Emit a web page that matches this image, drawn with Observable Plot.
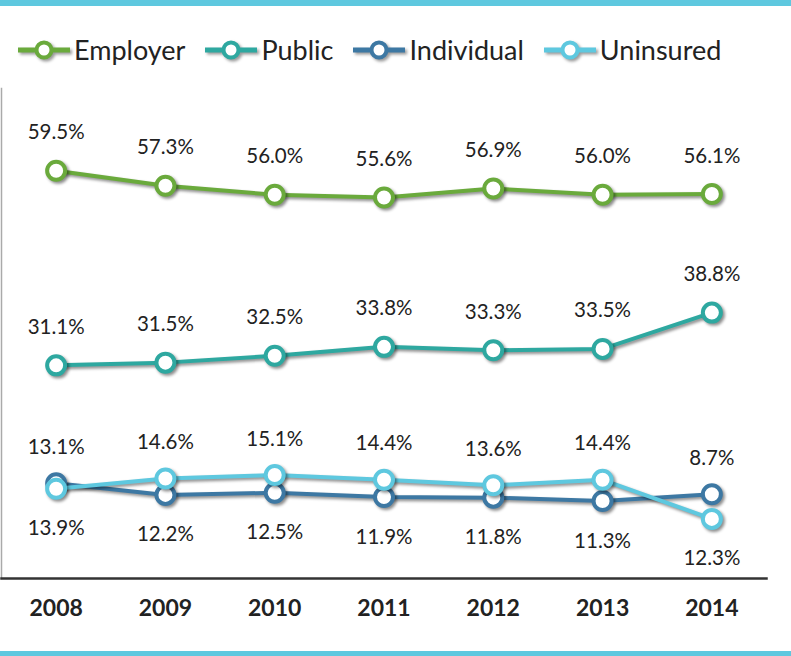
<!DOCTYPE html>
<html><head><meta charset="utf-8">
<script src="https://cdn.jsdelivr.net/npm/d3@7"></script>
<script src="https://cdn.jsdelivr.net/npm/@observablehq/plot@0.6"></script>
<style>
body{margin:0;background:#fff;}
#wrap{position:relative;width:791px;height:656px;overflow:hidden;background:#fff;font-family:Lato,sans-serif;}
.bar{position:absolute;left:0;width:791px;height:6px;background:#5ec8df;}
#legend{position:absolute;left:17px;top:33px;display:flex;align-items:center;font-size:27px;color:#222;}
.item{display:flex;align-items:center;margin-right:19px;}
.item svg{filter:drop-shadow(2px 2px 1.5px rgba(0,0,0,0.4));margin-right:3px;}
#chart{position:absolute;left:0;top:85px;}
#chart svg g[aria-label="line"], #chart svg g[aria-label="dot"]{filter:drop-shadow(2px 2px 1.5px rgba(0,0,0,0.45));}
</style>
</head><body>
<div id="wrap">
  <div class="bar" style="top:0"></div>
  <div id="legend"></div>
  <div id="chart"></div>
  <div class="bar" style="top:651px;height:5px"></div>
</div>
<script>
const years = [2008, 2009, 2010, 2011, 2012, 2013, 2014];
const seriesNames = ["Employer", "Public", "Individual", "Uninsured"];
const seriesColors = ["#6aaa3c", "#2ea8a0", "#3d78a3", "#5ec8df"];
const employer = [59.5, 57.3, 56.0, 55.6, 56.9, 56.0, 56.1];
const publicIns = [31.1, 31.5, 32.5, 33.8, 33.3, 33.5, 38.8];
const individual = [13.9, 12.2, 12.5, 11.9, 11.8, 11.3, 12.3];
const uninsured = [13.1, 14.6, 15.1, 14.4, 13.6, 14.4, 8.7];

const seriesValues = [employer, publicIns, individual, uninsured];
const fmt = v => v.toFixed(1) + "%";

// legend
const legend = document.getElementById("legend");
seriesNames.forEach((name, i) => {
  const c = seriesColors[i];
  const item = document.createElement("div");
  item.className = "item";
  item.innerHTML = `<svg width="54" height="26" viewBox="0 0 54 26"><line x1="1" x2="53" y1="13" y2="13" stroke="${c}" stroke-width="5"/><circle cx="27" cy="13" r="7.5" fill="#fff" stroke="${c}" stroke-width="4"/></svg><span>${name}</span>`;
  legend.appendChild(item);
});

const rowsFor = i => years.map((y, k) => ({year: y, value: seriesValues[i][k]}));

const marks = [
  Plot.frame({anchor: "left", stroke: "#aaa", strokeWidth: 1.5}),
  Plot.frame({anchor: "bottom", stroke: "#333", strokeWidth: 2.5}),
  Plot.axisX(years, {tickSize: 0, tickPadding: 21, label: null, tickFormat: d => String(d), fontSize: 23, fontWeight: "bold", fill: "#222"})
];
seriesNames.forEach((name, i) => {
  marks.push(Plot.line(rowsFor(i), {x: "year", y: "value", stroke: seriesColors[i], strokeWidth: 4}));
  marks.push(Plot.dot(rowsFor(i), {x: "year", y: "value", r: 9, fill: "white", stroke: seriesColors[i], strokeWidth: 4}));
});
// labels for employer and public
[0, 1].forEach(i => {
  marks.push(Plot.text(rowsFor(i), {x: "year", y: "value", text: d => fmt(d.value), dy: -38, fontSize: 20.5, fill: "#222"}));
});
// labels for the individual / uninsured pair: uninsured above, individual below
const topLabels = years.map((y, k) => ({year: y, value: Math.max(individual[k], uninsured[k]), label: fmt(uninsured[k])}));
const bottomLabels = years.map((y, k) => ({year: y, value: Math.min(individual[k], uninsured[k]), label: fmt(individual[k])}));
marks.push(Plot.text(topLabels, {x: "year", y: "value", text: "label", dy: -36, fontSize: 20.5, fill: "#222"}));
marks.push(Plot.text(bottomLabels, {x: "year", y: "value", text: "label", dy: 40, fontSize: 20.5, fill: "#222"}));

const chart = Plot.plot({
  width: 791,
  height: 566,
  marginTop: 3,
  marginBottom: 73,
  marginLeft: 1,
  marginRight: 25,
  x: {domain: [2007.5, 2014.5], label: null},
  y: {domain: [0, 71.5], axis: null},
  style: {fontFamily: "Lato, sans-serif", background: "transparent", overflow: "visible"},
  marks
});
document.getElementById("chart").appendChild(chart);
</script>
</body></html>
